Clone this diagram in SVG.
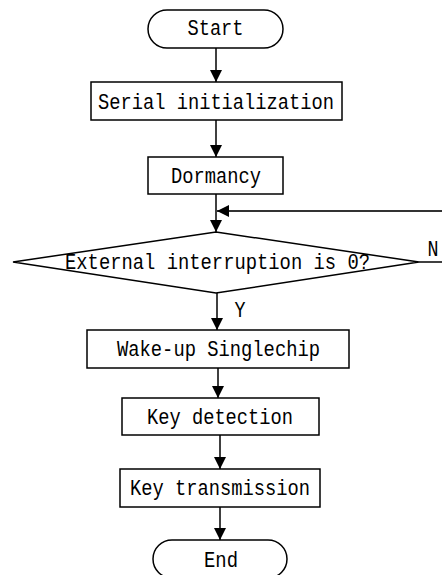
<svg xmlns="http://www.w3.org/2000/svg" width="442" height="575" viewBox="0 0 442 575">
<defs>
<style>
.n{fill:#fff;stroke:#000;stroke-width:1.5}
.t{font-family:"Liberation Mono","DejaVu Sans Mono",monospace;font-size:22px;fill:#000;text-anchor:middle}
.c{fill:none;stroke:#000;stroke-width:1.5}
</style>
<marker id="ah" viewBox="0 0 12 12" refX="12" refY="6" markerWidth="12" markerHeight="12" markerUnits="userSpaceOnUse" orient="auto">
<path d="M0,0 L12,6 L0,12 Z" fill="#000"/>
</marker>
</defs>
<rect width="442" height="575" fill="#fff"/>
<g id="connectors">
<line class="c" x1="216" y1="48" x2="216" y2="82" marker-end="url(#ah)"/>
<line class="c" x1="216" y1="120" x2="216" y2="157" marker-end="url(#ah)"/>
<line class="c" x1="216" y1="194" x2="216" y2="232" marker-end="url(#ah)"/>
<line x1="442" y1="211" x2="217" y2="211" stroke="#333" stroke-width="2" marker-end="url(#ah)"/>
<line class="c" x1="419" y1="262" x2="442" y2="262"/>
<line class="c" x1="217" y1="293" x2="217" y2="330" marker-end="url(#ah)"/>
<line class="c" x1="218" y1="368" x2="218" y2="398" marker-end="url(#ah)"/>
<line class="c" x1="220" y1="435" x2="220" y2="469" marker-end="url(#ah)"/>
<line class="c" x1="220" y1="507" x2="220" y2="540" marker-end="url(#ah)"/>
<text class="t" x="433" y="256" textLength="11" lengthAdjust="spacingAndGlyphs">N</text>
<text class="t" x="240" y="317" textLength="11" lengthAdjust="spacingAndGlyphs">Y</text>
</g>
<g id="start">
<rect class="n" x="148" y="10" width="135" height="38" rx="19"/>
<text class="t" x="215.5" y="35" textLength="56" lengthAdjust="spacingAndGlyphs">Start</text>
</g>
<g id="serial">
<rect class="n" x="91" y="82" width="251" height="38"/>
<text class="t" x="216" y="109" textLength="236" lengthAdjust="spacingAndGlyphs">Serial initialization</text>
</g>
<g id="dormancy">
<rect class="n" x="148" y="157" width="135" height="37"/>
<text class="t" x="216" y="183" textLength="90" lengthAdjust="spacingAndGlyphs">Dormancy</text>
</g>
<g id="decision">
<polygon class="n" points="216,232 419,262 216,293 13,262"/>
<text class="t" x="217.5" y="269" textLength="305" lengthAdjust="spacingAndGlyphs">External interruption is 0?</text>
</g>
<g id="wakeup">
<rect class="n" x="87" y="330" width="262" height="38"/>
<text class="t" x="218.5" y="356" textLength="203" lengthAdjust="spacingAndGlyphs">Wake-up Singlechip</text>
</g>
<g id="keydetect">
<rect class="n" x="122" y="398" width="197" height="37"/>
<text class="t" x="220" y="424" textLength="146" lengthAdjust="spacingAndGlyphs">Key detection</text>
</g>
<g id="keytrans">
<rect class="n" x="120" y="469" width="200" height="38"/>
<text class="t" x="220" y="495" textLength="180" lengthAdjust="spacingAndGlyphs">Key transmission</text>
</g>
<g id="end">
<rect class="n" x="153" y="540" width="134" height="38" rx="19"/>
<text class="t" x="221" y="567" textLength="34" lengthAdjust="spacingAndGlyphs">End</text>
</g>
</svg>
